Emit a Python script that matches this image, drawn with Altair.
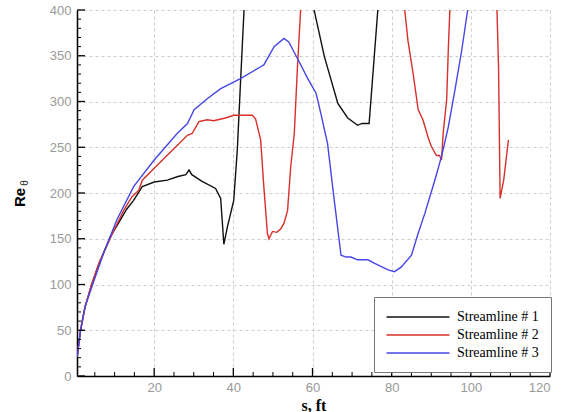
import altair as alt
import pandas as pd

names = ["Streamline # 1", "Streamline # 2", "Streamline # 3"]
colors = ["#111111", "#d8302a", "#4646e6"]

# Streamline 1 (values above 400 are clipped at the top of the plot)
s1 = [0.5, 1.4, 2.5, 4.2, 6, 8.9, 11.4, 13, 14.8, 17, 20, 23.3, 26, 28, 28.8, 29.5,
      32, 35.5, 36.8, 37.6, 38.5, 40.1, 41, 41.8, 42.7, 43.5, 59.5, 60.4, 63, 66.4, 68.9,
      71.4, 72.5, 73.6, 74.3, 76.5, 77.3]
re1 = [20, 50, 75, 100, 122, 152, 170, 182, 192, 207, 212, 214, 218, 220, 225, 220,
       213, 205, 194, 144, 163, 192, 247, 320, 400, 470, 470, 400, 349, 298, 282,
       274, 276, 276, 276, 400, 470]

# Streamline 2
s2 = [0.5, 1.4, 2.5, 4.2, 6, 9.8, 12.3, 14.4, 16.1, 17, 20, 25.8, 28.4, 29.6, 31.3, 33.4,
      35, 38, 40.1, 44.8, 45.6, 46.9, 47.7, 48.6, 49, 49.9, 51, 52, 52.8, 53.7, 54.5, 55.4,
      56.2, 57, 58, 82.5, 83.3, 84.1, 85.4, 86.7, 87.9, 89.2, 90, 91.3, 92.1, 92.6, 93,
      93.9, 94.3, 94.7, 95.2, 106.2, 106.6, 107, 107.4, 108.3, 109.5]
re2 = [20, 50, 75, 100, 123, 159, 181, 196, 203, 214, 227, 252, 263, 265, 278, 280,
       279, 282, 285, 285, 281, 258, 207, 156, 150, 158, 157, 161, 167, 181, 229, 265,
       338, 400, 470, 470, 400, 367, 331, 291, 280, 261, 251, 241, 241, 236, 265,
       302, 356, 400, 470, 470, 400, 338, 194, 214, 258]

# Streamline 3
s3 = [0.5, 1.4, 2.5, 4.3, 7.2, 10.6, 14.8, 20, 25.8, 28.4, 30.1, 33.4, 36.8, 41.8, 46.9,
      47.7, 50.3, 52.8, 54, 56.2, 58.8, 60.9, 62.1, 63.8, 65.5, 67.2, 68.5, 69.7, 71.4,
      74, 75.7, 79.1, 80.7, 82.4, 85, 86.7, 88.4, 90.9, 92.6, 94.3, 96, 97.7, 99.2, 100]
re3 = [20, 50, 75, 98, 134, 171, 207, 236, 265, 276, 291, 303, 314, 325, 338,
       340, 360, 369, 365, 347, 325, 309, 287, 254, 192, 132, 130, 130, 127,
       127, 123, 116, 114, 119, 132, 156, 178, 214, 240, 272, 313, 356, 400, 450]

x_major = [20, 40, 60, 80, 100, 120]
x_minor = [5, 10, 15, 25, 30, 35, 45, 50, 55, 65, 70, 75, 85, 90, 95, 105, 110, 115]
y_major = [0, 50, 100, 150, 200, 250, 300, 350, 400]
y_minor = [v for v in range(10, 400, 10) if v % 50 != 0]

rows = []
for name, xs, ys in zip(names, [s1, s2, s3], [re1, re2, re3]):
    for i, (a, b) in enumerate(zip(xs, ys)):
        rows.append({"series": name, "s": a, "re": b, "order": i})
df = pd.DataFrame(rows)

W, H = 473, 366
xscale = alt.Scale(domain=[0.5, 120], nice=False, zero=False)
yscale = alt.Scale(domain=[0, 400], nice=False, zero=False)

xaxis = alt.Axis(
    values=x_major, title="s, ft", ticks=False, grid=True, gridDash=[3, 3],
    gridColor="#cccccc", domainColor="#000000", domainWidth=1.5,
    labelColor="#999999", labelFont="Liberation Sans", labelFontSize=13, labelPadding=5,
    titleFont="Liberation Serif", titleFontSize=16, titleFontWeight="bold",
    titleColor="#000000", titlePadding=3)
yaxis = alt.Axis(
    values=y_major, title="Re", ticks=False, grid=True, gridDash=[3, 3],
    gridColor="#cccccc", domainColor="#000000", domainWidth=1.5,
    labelColor="#999999", labelFont="Liberation Sans", labelFontSize=13, labelPadding=6,
    titleFont="Liberation Sans", titleFontSize=15, titleFontWeight="bold",
    titleColor="#000000", titleAngle=270, titleX=-50, titleY=187,
    titleAlign="center", titleBaseline="bottom")

lines = alt.Chart(df).mark_line(clip=True, strokeWidth=1.4).encode(
    x=alt.X("s:Q", scale=xscale, axis=xaxis),
    y=alt.Y("re:Q", scale=yscale, axis=yaxis),
    color=alt.Color("series:N", scale=alt.Scale(domain=names, range=colors),
                    legend=alt.Legend(
                        title=None, orient="none", legendX=297, legendY=287,
                        fillColor="white", strokeColor="#777777", padding=12,
                        symbolType="M-4.5,0H4.5", symbolSize=196, symbolStrokeWidth=1.6,
                        symbolOffset=24, labelOffset=31,
                        labelFont="Liberation Serif", labelFontSize=14,
                        labelColor="#000000", rowPadding=3)),
    order="order:Q",
)

xmaj = alt.Chart(pd.DataFrame({"s": x_major})).mark_rule(color="black", strokeWidth=1.3).encode(
    x=alt.X("s:Q", scale=xscale, axis=xaxis), y=alt.value(H), y2=alt.value(H - 8))
xmin = alt.Chart(pd.DataFrame({"s": x_minor})).mark_rule(color="black", strokeWidth=1).encode(
    x=alt.X("s:Q", scale=xscale, axis=xaxis), y=alt.value(H), y2=alt.value(H - 4))
ymaj = alt.Chart(pd.DataFrame({"re": y_major})).mark_rule(color="black", strokeWidth=1.3).encode(
    y=alt.Y("re:Q", scale=yscale, axis=yaxis), x=alt.value(0), x2=alt.value(8))
ymin = alt.Chart(pd.DataFrame({"re": y_minor})).mark_rule(color="black", strokeWidth=1).encode(
    y=alt.Y("re:Q", scale=yscale, axis=yaxis), x=alt.value(0), x2=alt.value(4))

sub = alt.Chart(pd.DataFrame({"t": ["θ"]})).mark_text(
    angle=270, fontSize=10, font="Liberation Sans", color="#333333",
    align="center", baseline="bottom").encode(
    text="t:N", x=alt.value(-47), y=alt.value(173))

chart = alt.layer(lines, xmin, xmaj, ymin, ymaj, sub).properties(
    width=W, height=H,
    autosize=alt.AutoSizeParams(type="none"),
    padding={"left": 77, "top": 10, "right": 21, "bottom": 36},
).configure_view(stroke=None)

chart.save("out.html", embed_options={"renderer": "svg", "actions": False})
